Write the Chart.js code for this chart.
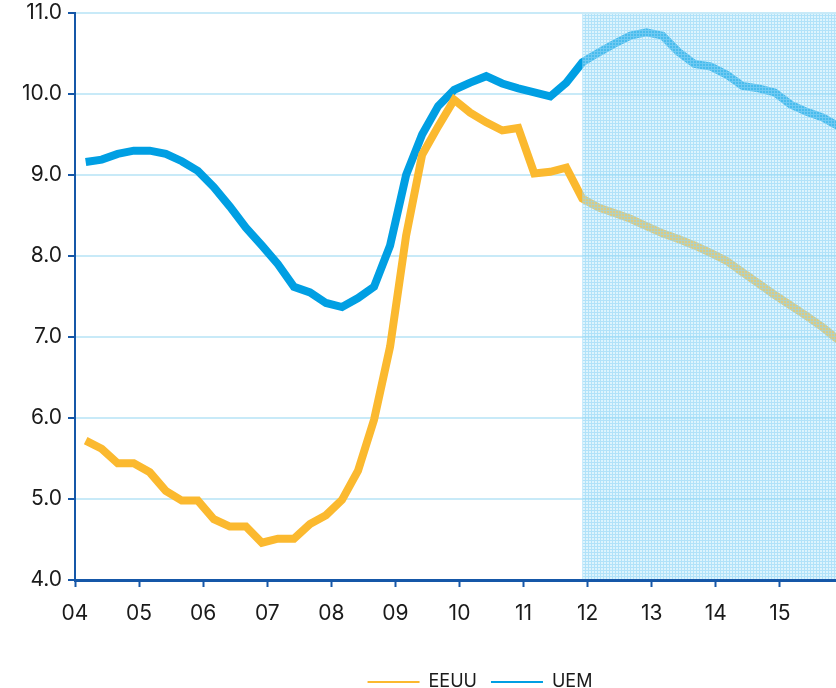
<!DOCTYPE html>
<html>
<head>
<meta charset="utf-8">
<script src="https://cdn.jsdelivr.net/npm/chart.js@4.4.1/dist/chart.umd.min.js"></script>
<style>
  html, body { margin: 0; padding: 0; background: #ffffff; }
  #wrap { width: 836px; height: 688px; }
</style>
</head>
<body>
<div id="wrap"><canvas id="c" width="836" height="688"></canvas></div>
<script>
// ---- data ----
// quarterly observations, x in years (04 = 2004), months 2,5,8,11 of each year
const quarterX = Array.from({length: 48}, (_, i) => 4 + (2 + 3 * i) / 12);
const eeuu = [
  5.72, 5.62, 5.44, 5.44, 5.33, 5.10, 4.98, 4.98,
  4.75, 4.66, 4.66, 4.46, 4.51, 4.51, 4.69, 4.80,
  4.99, 5.35, 5.98, 6.88, 8.25, 9.25, 9.60, 9.93,
  9.77, 9.65, 9.55, 9.58, 9.02, 9.04, 9.09, 8.71,
  8.60, 8.53, 8.46, 8.37, 8.28, 8.21, 8.13, 8.04,
  7.94, 7.80, 7.66, 7.52, 7.39, 7.26, 7.12, 6.96
];
const uem = [
  9.16, 9.19, 9.26, 9.30, 9.30, 9.26, 9.17, 9.05,
  8.85, 8.61, 8.35, 8.13, 7.90, 7.62, 7.55, 7.42,
  7.37, 7.48, 7.62, 8.13, 9.00, 9.50, 9.85, 10.05,
  10.14, 10.22, 10.13, 10.07, 10.02, 9.97, 10.14, 10.39,
  10.51, 10.62, 10.72, 10.76, 10.72, 10.52, 10.37, 10.34,
  10.24, 10.10, 10.07, 10.02, 9.87, 9.78, 9.71, 9.60
];
const seriesNames = ['EEUU', 'UEM'];
const xTickValues = [4, 5, 6, 7, 8, 9, 10, 11, 12, 13, 14, 15];
const xTickLabels = ['04', '05', '06', '07', '08', '09', '10', '11', '12', '13', '14', '15'];
const forecastStart = quarterX[31];   // shaded forecast period begins here
const yMin = 4, yMax = 11, xMin = 4, xMax = 15.875;

// ---- styles ----
const axisBlue = '#1557a8';
const gridBlue = '#c8eaf8';
const yellow = '#fbb92f';
const blue = '#009fe3';
const FONT = 'Inter, "Open Sans", sans-serif';
const TEXT = '#1a1a1a';

function makePattern(ctx) {
  const t = document.createElement('canvas');
  t.width = 3; t.height = 3;
  const g = t.getContext('2d');
  g.fillStyle = 'rgba(175,228,250,0.42)';
  g.fillRect(0, 0, 3, 3);
  g.fillStyle = 'rgba(140,212,246,0.55)';
  g.fillRect(0, 0, 3, 1);
  g.fillRect(0, 1, 1, 2);
  return ctx.createPattern(t, 'repeat');
}

const shadePlugin = {
  id: 'shade',
  afterDatasetsDraw(chart) {
    const {ctx, chartArea, scales} = chart;
    const x0 = scales.x.getPixelForValue(forecastStart);
    ctx.save();
    ctx.fillStyle = makePattern(ctx);
    ctx.fillRect(x0, chartArea.top + 1, chartArea.right - x0, chartArea.bottom - chartArea.top - 2);
    ctx.restore();
  }
};

// nudge the legend block (the original chart was wider than the visible crop)
const legendShift = {
  id: 'legendShift',
  afterLayout(chart) {
    const lg = chart.legend;
    if (!lg) return;
    lg.left += 62; lg.right += 62;
    lg.top += 15; lg.bottom += 15;
  }
};

const toPoints = arr => arr.map((v, i) => ({x: quarterX[i], y: v}));

new Chart(document.getElementById('c'), {
  type: 'line',
  data: {
    datasets: [
      { label: seriesNames[0], data: toPoints(eeuu), borderColor: yellow, backgroundColor: yellow,
        borderWidth: 8, pointRadius: 0, tension: 0, fill: false },
      { label: seriesNames[1], data: toPoints(uem), borderColor: blue, backgroundColor: blue,
        borderWidth: 8, pointRadius: 0, tension: 0, fill: false }
    ]
  },
  options: {
    responsive: false,
    animation: false,
    devicePixelRatio: 1,
    layout: { padding: { top: 13, left: 0, right: 0, bottom: 2 } },
    plugins: {
      tooltip: { enabled: false },
      legend: {
        position: 'bottom',
        labels: {
          font: { family: FONT, size: 18 },
          color: TEXT,
          boxWidth: 52,
          boxHeight: 2,
          padding: 14,
          generateLabels(chart) {
            return chart.data.datasets.map((d, i) => ({
              text: d.label, fillStyle: d.borderColor, strokeStyle: d.borderColor,
              lineWidth: 0, hidden: false, datasetIndex: i, fontColor: TEXT
            }));
          }
        }
      }
    },
    scales: {
      x: {
        type: 'linear', min: xMin, max: xMax,
        afterBuildTicks(s) { s.ticks = xTickValues.map(v => ({value: v})); },
        afterFit(s) { s.height = 64; },
        ticks: {
          font: { family: FONT, size: 21 }, color: TEXT, padding: 14,
          autoSkip: false, maxRotation: 0,
          callback(v, i) { return xTickLabels[i]; }
        },
        grid: { drawOnChartArea: false, drawTicks: true, tickLength: 7, tickColor: axisBlue, tickWidth: 2 },
        border: { color: axisBlue, width: 3 }
      },
      y: {
        min: yMin, max: yMax,
        afterFit(s) { s.width = 75; },
        ticks: {
          stepSize: 1, font: { family: FONT, size: 21, lineHeight: 0.6 }, color: TEXT, padding: 6,
          callback(v) { return v.toFixed(1); }
        },
        grid: { color: gridBlue, lineWidth: 2, tickColor: axisBlue, tickLength: 7, tickWidth: 2 },
        border: { color: axisBlue, width: 2 }
      }
    }
  },
  plugins: [shadePlugin, legendShift]
});
</script>
</body>
</html>
